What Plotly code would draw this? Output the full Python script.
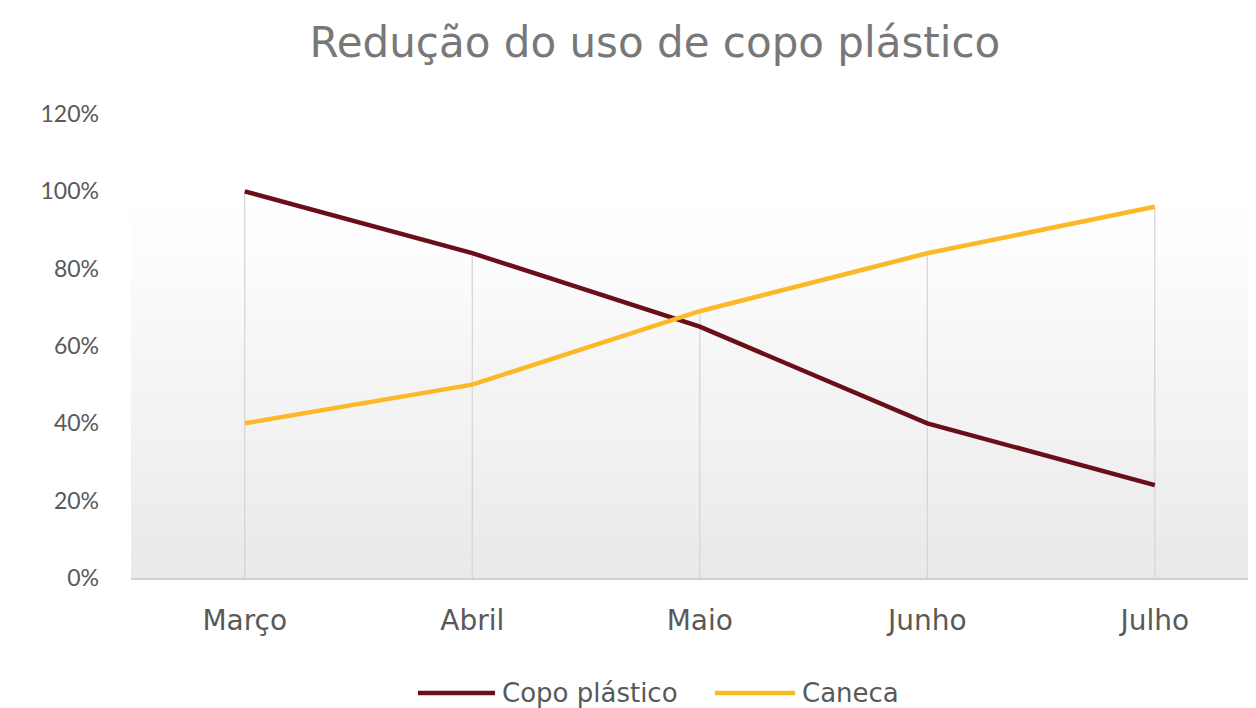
import plotly.graph_objects as go

months = ["Março", "Abril", "Maio", "Junho", "Julho"]
series_names = ["Copo plástico", "Caneca"]
copo = [1.00, 0.84, 0.65, 0.40, 0.24]
caneca = [0.40, 0.50, 0.69, 0.84, 0.96]
y_ticks = [0, 0.2, 0.4, 0.6, 0.8, 1.0, 1.2]
y_labels = ["0%", "20%", "40%", "60%", "80%", "100%", "120%"]

COL_COPO = "#6a0f18"
COL_CANECA = "#fbb927"
WIDE = "'DejaVu Sans', sans-serif"
NARROW = "Lato, 'Open Sans', sans-serif"
GRAY = "#595959"

fig = go.Figure()

# drop lines from axis to highest value at each category
dx, dy = [], []
for m, a, b in zip(months, copo, caneca):
    dx += [m, m, None]
    dy += [0, max(a, b), None]
fig.add_trace(go.Scatter(x=dx, y=dy, mode="lines", line=dict(color="#d4d4d4", width=1.2),
                         showlegend=False, hoverinfo="skip"))

fig.add_trace(go.Scatter(x=months, y=copo, mode="lines", name=series_names[0],
                         line=dict(color=COL_COPO, width=4.5), showlegend=False))
fig.add_trace(go.Scatter(x=months, y=caneca, mode="lines", name=series_names[1],
                         line=dict(color=COL_CANECA, width=4.5), showlegend=False))

# background gradient (white at top to light gray at bottom)
shapes = []
n = 30
for i in range(n):
    f = i / (n - 1)
    g = int(234 + (255 - 234) * min(1.0, f / 0.8))
    shapes.append(dict(type="rect", xref="paper", yref="paper", x0=0, x1=1,
                       y0=i / n, y1=(i + 1) / n, fillcolor=f"rgb({g},{g},{g})",
                       line=dict(width=0), layer="below"))

# custom legend (long line samples)
leg_y = -0.248
legend_items = [
    (series_names[0], COL_COPO, 0.2533, 0.3213, 0.3257),
    (series_names[1], COL_CANECA, 0.5154, 0.5861, 0.5905),
]
annotations = []
for name, col, x0, x1, xt in legend_items:
    shapes.append(dict(type="line", xref="paper", yref="paper", x0=x0, x1=x1,
                       y0=leg_y, y1=leg_y, line=dict(color=col, width=4.5)))
    annotations.append(dict(text=name, xref="paper", yref="paper", x=xt, y=leg_y,
                            xanchor="left", yanchor="middle", showarrow=False,
                            font=dict(family=WIDE, size=26, color=GRAY)))

fig.update_layout(
    width=1256, height=708,
    margin=dict(l=123, r=0, t=106, b=138),
    paper_bgcolor="white", plot_bgcolor="white",
    shapes=shapes, annotations=annotations,
    title=dict(text="Redução do uso de copo plástico", x=0.515, xanchor="center",
               y=0.952, yanchor="middle",
               font=dict(family=WIDE, size=42, color="#787878")),
    font=dict(family=NARROW, color=GRAY),
    xaxis=dict(type="category", range=[-0.5, 4.48], showgrid=False, zeroline=False,
               showline=True, linecolor="#d0d0d0", linewidth=1.5, ticks="",
               tickfont=dict(family=WIDE, size=28, color=GRAY), ticklabelstandoff=17),
    yaxis=dict(range=[0, 1.2], tickvals=y_ticks, ticktext=y_labels, showgrid=False,
               zeroline=False, showline=False,
               tickfont=dict(family=NARROW, size=23, color=GRAY),
               ticklabelstandoff=31),
    showlegend=False,
)

fig.write_html("out.html")
